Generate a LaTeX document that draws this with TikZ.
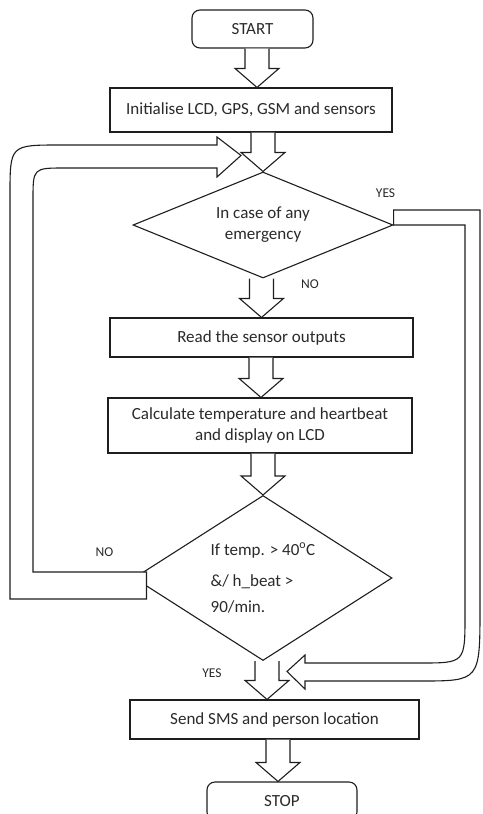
\documentclass[tikz,border=0pt]{standalone}
\usepackage{fontspec}
\setmainfont{Carlito}
\usepackage{tikz}
\usetikzlibrary{positioning,shapes.geometric,calc}
\definecolor{cInk}{HTML}{1E1E1E}
\definecolor{cText}{HTML}{2A2A2A}

% hollow block arrow: [x shift of tip] {from node} {to node}
\newcommand{\blockarrow}[3][0]{%
  \coordinate (ba tip) at ($(#3.north)+(#1,0)$);
  \coordinate (ba tail) at (ba tip |- #2.south);
  \draw[blk] ($(ba tail)+(-12,0)$) -- ($(ba tip)+(-12,-19)$) -- ($(ba tip)+(-22,-19)$)
    -- (ba tip) -- ($(ba tip)+(22,-19)$) -- ($(ba tip)+(12,-19)$) -- ($(ba tail)+(12,0)$);
}

\begin{document}
\begin{tikzpicture}[
  x=1pt, y=-1pt,
  font=\fontsize{17}{21}\selectfont,
  base/.style={draw=cInk, line width=1.1pt, align=center, inner sep=3pt,
               text=cText, fill=white},
  term/.style={base, rounded corners=8pt},
  proc/.style={base},
  dec/.style={base, diamond, inner sep=0pt},
  lbl/.style={font=\fontsize{13.5}{16}\selectfont, text=cText, inner sep=1pt},
  blk/.style={draw=cInk, fill=white, line width=1.1pt, line join=miter},
  band/.style={blk}]

\useasboundingbox (0,0) rectangle (482,814);

% ---------- main chain ----------
\node[term, minimum width=121pt, minimum height=38pt] (start) at (252.5,29) {START};
\node[proc, minimum width=282pt, minimum height=44pt] (init) at (251,110)
     {Initialise LCD, GPS, GSM and sensors};
\node[dec, shape aspect=2.45, minimum width=260pt, minimum height=106pt] (emerg)
     at (263,225) {In case of any\\emergency};
\node[proc, minimum width=303pt, minimum height=39pt] (read) at (261.5,337.5)
     {Read the sensor outputs};
\node[proc, minimum width=304pt, minimum height=55pt] (calc) at (260,425.5)
     {Calculate temperature and heartbeat\\and display on LCD};
\node[dec, shape aspect=1.56, minimum width=258pt, minimum height=165pt, align=left,
      font=\fontsize{17}{26}\selectfont] (check) at (263,578)
     {If temp. > 40\textsuperscript{o}C\\[5pt]\&/ h\_beat >\\90/min.};
\node[proc, minimum width=289pt, minimum height=39pt] (send) at (274.5,719.5)
     {Send SMS and person location};
\node[term, minimum width=150pt, minimum height=38pt] (stop) at (282,801) {STOP};

% ---------- straight flow ----------
\blockarrow[6]{start}{init}
\blockarrow{init}{emerg}
\blockarrow{emerg}{read}
\blockarrow[1]{read}{calc}
\blockarrow{calc}{check}
\blockarrow[-7.5]{check}{send}
\blockarrow[-4]{send}{stop}

% ---------- NO loop back to the check ----------
\coordinate (noA) at ($(check.west)+(13,-6)$);
\coordinate (noB) at ($(check.west)+(13,21)$);
\coordinate (loopTip) at ($(emerg.north)+(-22,-16)$);
\draw[band] (noB) -- (10,599) -- (10,195) .. controls (10,145) .. (60,145)
  -- (217,145) -- (217,137) -- (loopTip) -- (217,177) -- (217,168)
  -- (65,168) .. controls (33,168) .. (33,200) -- (33,572) -- (noA) -- cycle;

% ---------- YES bypass to the SMS step ----------
\coordinate (yesTip) at ($(send.north)+(12.5,-28)$);
\draw[band] (emerg.east) -- ++(0,-15) -- (480,210) -- (480,607)
  .. controls (480,681) .. (420,681) -- (305,681) -- (305,689) -- (yesTip)
  -- (305,655) -- (305,663) -- (420,663) .. controls (465,663) .. (465,615)
  -- (465,225) -- cycle;

% ---------- branch labels ----------
\node[lbl] (yes1) at ($(emerg.east)+(-8,-32)$) {YES};
\node[lbl] (no1) at ($(emerg.south)+(47,6)$) {NO};
\node[lbl] (no2) at ($(check.west)+(-29,-26)$) {NO};
\node[lbl] (yes2) at ($(check.south)+(-51,12)$) {YES};
\end{tikzpicture}
\end{document}
